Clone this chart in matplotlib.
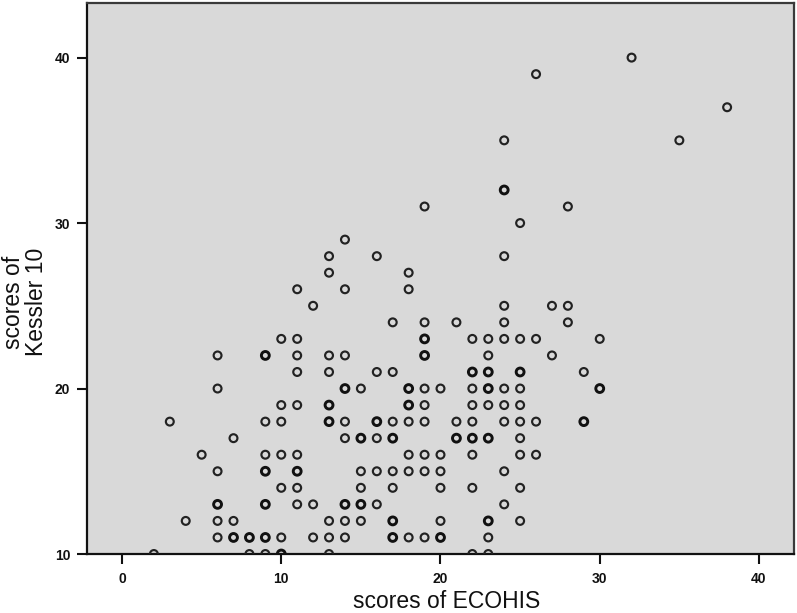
import numpy as np
import matplotlib
matplotlib.use("Agg")
import matplotlib.pyplot as plt

plt.rcParams['font.family'] = ['Liberation Sans', 'DejaVu Sans']

# Data: (ECOHIS score, Kessler 10 score); repeated pairs are overlapping subjects
ecohis = [
    32, 26, 38, 35, 24, 24, 24, 19, 28, 25, 14, 13, 16, 24,
    13, 11, 14, 12, 10, 11,
    6, 9, 9, 11, 13, 14,
    11, 13, 6, 14, 14,
    10, 11, 13, 13,
    3, 9, 10, 13, 13, 14,
    7, 14, 5, 9, 10, 11,
    6, 9, 9, 11, 11,
    10, 11,
    6, 6, 9, 9, 11, 12, 14, 14,
    4, 6, 7, 13, 14,
    6, 7, 7, 8, 8, 9, 9, 10, 12, 13, 14,
    2, 8, 9, 10, 10, 13,
    18, 18, 24, 27, 28,
    17, 19, 21, 24, 28,
    19, 19, 22, 23, 24, 25, 26, 30,
    19, 19, 23, 27,
    16, 17, 22, 22, 23, 23, 25, 25, 29,
    15, 18, 18, 19, 20, 22, 23, 23, 24, 25, 30, 30,
    18, 18, 19, 22, 23, 24, 25,
    16, 16, 17, 18, 19, 21, 22, 24, 25, 26, 29, 29,
    15, 15, 16, 17, 17, 21, 21, 22, 22, 23, 23, 25,
    18, 19, 20, 22, 25, 26,
    15, 16, 17, 18, 19, 20, 24,
    15, 17, 20, 22, 25,
    15, 15, 16, 24,
    15, 17, 17, 20, 23, 23, 25,
    17, 17, 18, 19, 20, 20, 23,
    22, 23,
]
kessler = [
    40, 39, 37, 35, 35, 32, 32, 31, 31, 30, 29, 28, 28, 28,
    27, 26, 26, 25, 23, 23,
    22, 22, 22, 22, 22, 22,
    21, 21, 20, 20, 20,
    19, 19, 19, 19,
    18, 18, 18, 18, 18, 18,
    17, 17, 16, 16, 16, 16,
    15, 15, 15, 15, 15,
    14, 14,
    13, 13, 13, 13, 13, 13, 13, 13,
    12, 12, 12, 12, 12,
    11, 11, 11, 11, 11, 11, 11, 11, 11, 11, 11,
    10, 10, 10, 10, 10, 10,
    27, 26, 25, 25, 25,
    24, 24, 24, 24, 24,
    23, 23, 23, 23, 23, 23, 23, 23,
    22, 22, 22, 22,
    21, 21, 21, 21, 21, 21, 21, 21, 21,
    20, 20, 20, 20, 20, 20, 20, 20, 20, 20, 20, 20,
    19, 19, 19, 19, 19, 19, 19,
    18, 18, 18, 18, 18, 18, 18, 18, 18, 18, 18, 18,
    17, 17, 17, 17, 17, 17, 17, 17, 17, 17, 17, 17,
    16, 16, 16, 16, 16, 16,
    15, 15, 15, 15, 15, 15, 15,
    14, 14, 14, 14, 14,
    13, 13, 13, 13,
    12, 12, 12, 12, 12, 12, 12,
    11, 11, 11, 11, 11, 11, 11,
    10, 10,
]
x_ticks = [0, 10, 20, 30, 40]
y_ticks = [10, 20, 30, 40]

W, H = 797, 613
fig = plt.figure(figsize=(W / 100, H / 100), dpi=100)
ax = fig.add_axes([87 / W, 1 - 554 / H, (794 - 87) / W, (554 - 3) / H])
ax.set_facecolor('#d9d9d9')

pts = np.column_stack([ecohis, kessler])
uniq, counts = np.unique(pts, axis=0, return_counts=True)
single = counts == 1
ax.scatter(uniq[single, 0], uniq[single, 1], s=32, facecolors='none',
           edgecolors='#222222', linewidths=1.55, zorder=3)
ax.scatter(uniq[~single, 0], uniq[~single, 1], s=32, facecolors='none',
           edgecolors='#111111', linewidths=2.1, zorder=3)

ax.set_xlim(-2.2, 42.2)
ax.set_ylim(10, 43.3)
ax.set_xticks(x_ticks)
ax.set_yticks(y_ticks)
ax.tick_params(axis='both', direction='out', length=7, width=1.5,
               color='#111111', labelsize=10)
ax.tick_params(axis='x', pad=6)
ax.tick_params(axis='y', pad=5)
for lab in ax.get_xticklabels() + ax.get_yticklabels():
    lab.set_fontweight('bold')
    lab.set_color('#111111')

for side in ['left', 'bottom']:
    ax.spines[side].set_linewidth(1.6)
    ax.spines[side].set_color('#111111')
for side in ['top', 'right']:
    ax.spines[side].set_linewidth(1.6)
    ax.spines[side].set_color('#3a3a3a')

fig.text(447 / W, 1 - 601 / H, 'scores of ECOHIS', ha='center', va='center',
         fontsize=16.5, color='#111111')
fig.text(25 / W, 1 - 302 / H, 'scores of\nKessler 10', ha='center', va='center',
         rotation=90, fontsize=16.5, linespacing=0.95, multialignment='center',
         color='#111111')

fig.savefig('out.png', dpi=100, facecolor='white')
